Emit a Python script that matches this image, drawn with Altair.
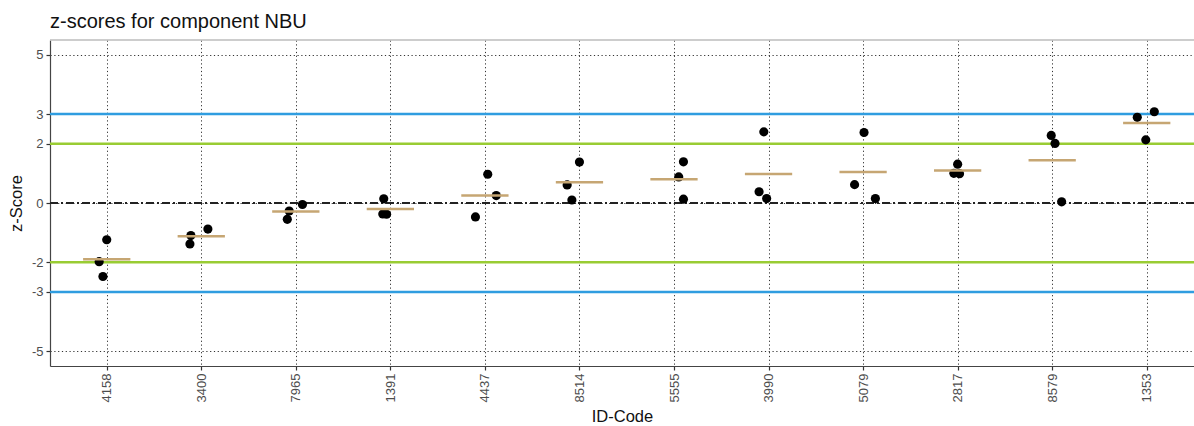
import altair as alt
import pandas as pd

# Participant ID codes, in plotting order
codes = ["4158", "3400", "7965", "1391", "4437", "8514",
         "5555", "3990", "5079", "2817", "8579", "1353"]

# z-scores of the three replicate results per participant
z_rep1 = [-1.24, -1.10, -0.27, 0.14, 0.97, 1.38, 1.39, 2.40, 2.38, 1.31, 2.28, 2.89]
z_rep2 = [-1.98, -1.38, -0.55, -0.37, 0.25, 0.61, 0.88, 0.38, 0.62, 1.00, 2.01, 3.08]
z_rep3 = [-2.48, -0.88, -0.05, -0.38, -0.47, 0.10, 0.13, 0.15, 0.15, 0.99, 0.04, 2.13]

# horizontal jitter of each replicate (in category units)
jit_rep1 = [0.00, -0.11, -0.07, -0.07, 0.03, 0.00, 0.10, -0.05, 0.01, 0.00, -0.01, -0.10]
jit_rep2 = [-0.08, -0.12, -0.09, -0.08, 0.12, -0.13, 0.05, -0.10, -0.09, -0.04, 0.03, 0.08]
jit_rep3 = [-0.04, 0.07, 0.07, -0.04, -0.10, -0.08, 0.10, -0.02, 0.13, 0.02, 0.10, -0.01]

# limits: warning (|z|=2), action (|z|=3)
warn_limits = [2, -2]
action_limits = [3, -3]
y_ticks = [5, 3, 2, 0, -2, -3, -5]

rows = []
for i, code in enumerate(codes):
    for z, j in ((z_rep1[i], jit_rep1[i]), (z_rep2[i], jit_rep2[i]), (z_rep3[i], jit_rep3[i])):
        rows.append({"code": code, "idx": i + 1, "pos": i + 1 + j, "z": z})
df = pd.DataFrame(rows)

W, H = 1144, 326
FONT = "Liberation Sans"

label_expr = "[" + ",".join(f"'{c}'" for c in codes) + "][datum.value - 1]"

x_scale = alt.Scale(domain=[0.4, 12.5], nice=False, zero=False)
y_scale = alt.Scale(domain=[-5.5, 5.5], nice=False, zero=False)

x_axis = alt.Axis(
    values=list(range(1, len(codes) + 1)), labelExpr=label_expr, title="ID-Code",
    labelAngle=-90, labelAlign="right", labelBaseline="middle",
    labelFontSize=13, labelColor="#4d4d4d", labelPadding=3,
    titleFontSize=16.5, titleFontWeight="normal", titleColor="#111", titlePadding=7,
    grid=True, gridDash=[1.2, 2.6], gridColor="#333", gridWidth=1,
    domain=True, domainColor="#444", domainWidth=1.2,
    ticks=True, tickColor="#333", tickSize=4, tickWidth=1.2,
)
y_axis = alt.Axis(
    values=y_ticks, labelExpr="'' + datum.value", title="z-Score",
    labelFontSize=13, labelColor="#4d4d4d", labelPadding=3,
    titleFontSize=16.5, titleFontWeight="normal", titleColor="#111", titlePadding=7,
    grid=True, gridDash=[1.2, 2.6], gridColor="#333", gridWidth=1,
    domain=True, domainColor="#444", domainWidth=1.2,
    ticks=True, tickColor="#333", tickSize=4, tickWidth=1.2,
)

base = alt.Chart(df)

points = base.mark_circle(size=84, color="black", opacity=1).encode(
    x=alt.X("pos:Q", scale=x_scale, axis=x_axis),
    y=alt.Y("z:Q", scale=y_scale, axis=y_axis),
)

means = base.transform_aggregate(
    mean_z="mean(z)", groupby=["idx"]
).transform_calculate(
    x1="datum.idx - 0.25", x2="datum.idx + 0.25"
).mark_rule(color="#c6a673", strokeWidth=2.5).encode(
    x=alt.X("x1:Q", scale=x_scale), x2="x2:Q",
    y=alt.Y("mean_z:Q", scale=y_scale),
)

warn = alt.Chart(pd.DataFrame({"z": warn_limits})).mark_rule(
    color="#99cc33", strokeWidth=2.5
).encode(y=alt.Y("z:Q", scale=y_scale))

action = alt.Chart(pd.DataFrame({"z": action_limits})).mark_rule(
    color="#2f9de0", strokeWidth=2.5
).encode(y=alt.Y("z:Q", scale=y_scale))

zero = alt.Chart(pd.DataFrame({"z": [0]})).mark_rule(
    color="#222", strokeWidth=2, strokeDash=[8, 3, 2, 3]
).encode(y=alt.Y("z:Q", scale=y_scale))

top_border = alt.Chart(pd.DataFrame({"z": [5.5]})).mark_rule(
    color="#bdbdbd", strokeWidth=1.5
).encode(y=alt.Y("z:Q", scale=y_scale))

chart = alt.layer(top_border, action, warn, zero, points, means).properties(
    width=W, height=H,
    title=alt.TitleParams("z-scores for component NBU", anchor="start", frame="group",
                          fontSize=20, fontWeight="normal", color="#111",
                          font=FONT, offset=7),
    autosize=alt.AutoSizeParams(type="none"),
    padding={"left": 50, "top": 40, "right": 0, "bottom": 60},
).configure(font=FONT).configure_view(stroke=None)

chart.save("out.html", embed_options={"renderer": "svg", "actions": False})
